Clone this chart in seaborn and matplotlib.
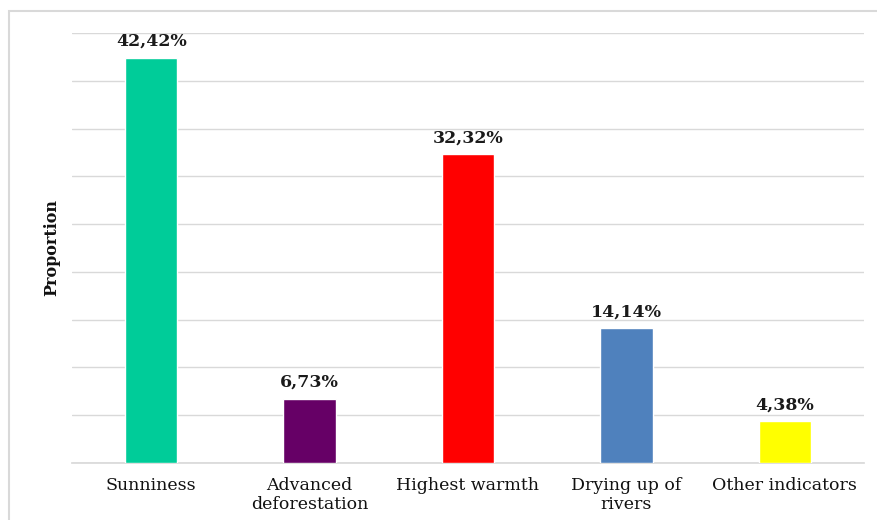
import matplotlib
matplotlib.use("Agg")
import matplotlib.pyplot as plt
import seaborn as sns
import pandas as pd
from matplotlib.patches import Rectangle

categories = ["Sunniness", "Advanced\ndeforestation", "Highest warmth",
              "Drying up of\nrivers", "Other indicators"]
values = [42.42, 6.73, 32.32, 14.14, 4.38]
labels = ["42,42%", "6,73%", "32,32%", "14,14%", "4,38%"]
colors = ["#00CC99", "#660066", "#FF0000", "#4F81BD", "#FFFF00"]

sns.set_theme(style="white")
plt.rcParams["font.family"] = ["DejaVu Serif"]

df = pd.DataFrame({"category": categories, "value": values})

fig = plt.figure(figsize=(8.77, 5.20), dpi=100)
fig.patches.append(Rectangle((9 / 877, -0.1), 1.2, (520 - 11) / 520 + 0.1,
                             transform=fig.transFigure, fill=False,
                             edgecolor="#D9D9D9", linewidth=1.5, zorder=0))
ax = fig.add_axes([72 / 877, 1 - 463 / 520, (864 - 72) / 877, (463 - 33) / 520])

sns.barplot(data=df, x="category", y="value", hue="category", palette=colors,
            saturation=1, legend=False, width=0.33, ax=ax, zorder=3)

ax.set_ylim(0, 45)
ax.set_yticks(range(0, 46, 5))
ax.set_yticklabels([])
ax.tick_params(axis="y", length=0)
ax.tick_params(axis="x", length=0, pad=10, labelsize=12.5, labelcolor="#111111")
ax.grid(axis="y", color="#D9D9D9", linewidth=1, zorder=0)
for s in ["top", "right", "left"]:
    ax.spines[s].set_visible(False)
ax.spines["bottom"].set_color("#D9D9D9")
ax.set_xlabel("")
ax.set_ylabel("Proportion", fontsize=11.5, fontweight="bold", labelpad=5,
              color="#111111")

for bar, lab in zip(ax.patches, labels):
    ax.text(bar.get_x() + bar.get_width() / 2, bar.get_height() + 0.8, lab,
            ha="center", va="bottom", fontsize=12.5, fontweight="bold",
            color="#1a1a1a")

for t in ax.get_xticklabels():
    t.set_linespacing(1.2)

fig.savefig("out.png", dpi=100)
